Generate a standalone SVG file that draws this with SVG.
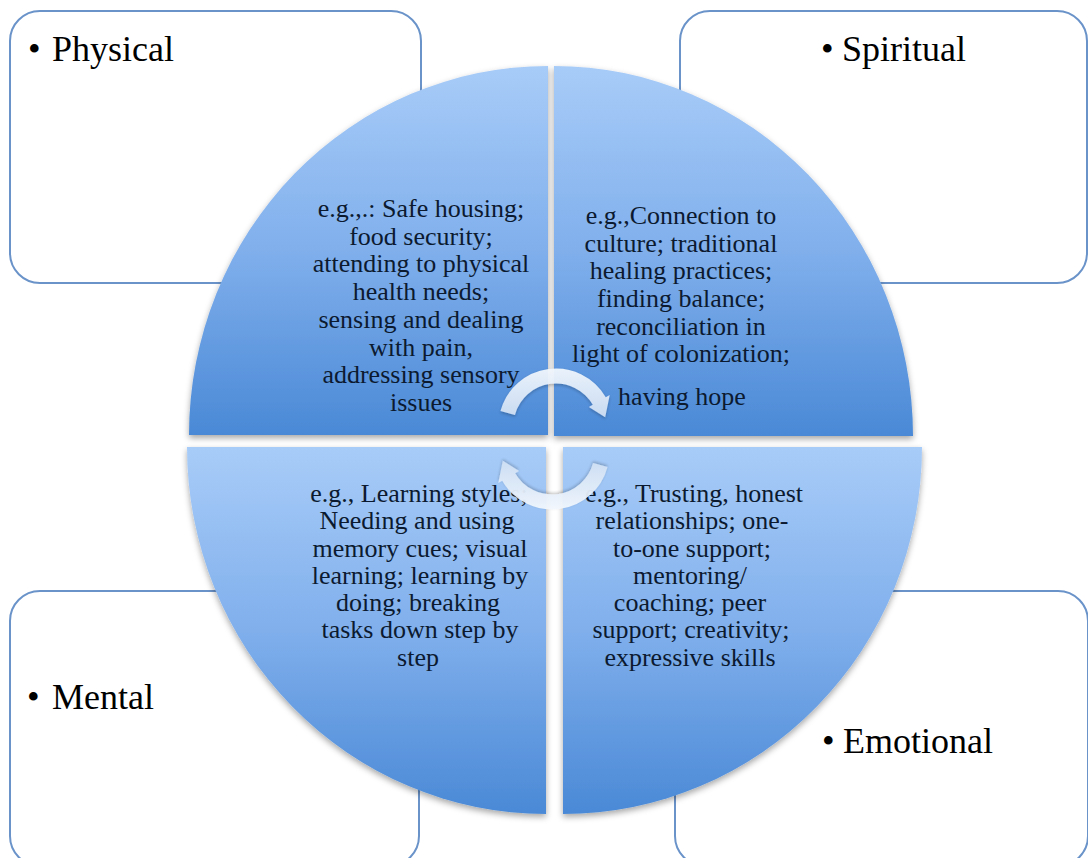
<svg xmlns="http://www.w3.org/2000/svg" width="1088" height="858" viewBox="0 0 1088 858">
<defs>
<linearGradient id="qgrad" x1="0" y1="0" x2="0" y2="1">
<stop offset="0" stop-color="#a8ccf8"/>
<stop offset="0.5" stop-color="#80afec"/>
<stop offset="1" stop-color="#4a89d6"/>
</linearGradient>
<linearGradient id="agrad" x1="0" y1="0" x2="0" y2="1">
<stop offset="0" stop-color="#f2f7fd"/>
<stop offset="1" stop-color="#cfdff3"/>
</linearGradient>
<filter id="shadow" x="-10%" y="-10%" width="120%" height="120%">
<feDropShadow dx="0" dy="3" stdDeviation="3" flood-color="#000" flood-opacity="0.35"/>
</filter>
<filter id="ashadow" x="-20%" y="-20%" width="140%" height="140%">
<feDropShadow dx="0" dy="1.5" stdDeviation="1.5" flood-color="#000" flood-opacity="0.25"/>
</filter>
<path id="arrow" d="M 500.46 411.12 A 57.5 57.5 0 0 1 605.8 397.25 L 609.7 395 L 605.2 417.3 L 588.9 407 L 592.8 404.75 A 42.5 42.5 0 0 0 514.95 415 Z"/>
</defs>
<style>
.box{fill:#fff;stroke:#6a93c9;stroke-width:2}
.quad{fill:url(#qgrad);filter:url(#shadow)}
.label{font-family:"Liberation Serif","Times New Roman",serif;font-size:36px;fill:#000}
.body{font-family:"Liberation Serif","Times New Roman",serif;font-size:26px;fill:#0c1a30;text-anchor:middle}
.arr{fill:url(#agrad);opacity:0.95;filter:url(#ashadow)}
</style>
<rect width="1088" height="858" fill="#fff"/>
<g id="box-physical">
<rect class="box" x="10" y="11" width="411" height="272" rx="30"/>
<text class="label" x="28" y="61">•<tspan x="52">Physical</tspan></text>
</g>
<g id="box-spiritual">
<rect class="box" x="680" y="11" width="407" height="272" rx="30"/>
<text class="label" x="821" y="61">•<tspan x="842">Spiritual</tspan></text>
</g>
<g id="box-mental">
<rect class="box" x="10" y="591" width="409" height="275" rx="30"/>
<text class="label" x="27" y="709">•<tspan x="52">Mental</tspan></text>
</g>
<g id="box-emotional">
<rect class="box" x="675" y="591" width="413" height="275" rx="30"/>
<text class="label" x="822" y="753">•<tspan x="843">Emotional</tspan></text>
</g>
<g id="quad-physical">
<path class="quad" d="M 548 435 L 189 435 A 359 369 0 0 1 548 66 Z"/>
<text class="body" x="421"><tspan x="421" y="217">e.g.,.: Safe housing;</tspan><tspan x="421" y="245">food security;</tspan><tspan x="421" y="272">attending to physical</tspan><tspan x="421" y="300">health needs;</tspan><tspan x="421" y="328">sensing and dealing</tspan><tspan x="421" y="356">with pain,</tspan><tspan x="421" y="383">addressing sensory</tspan><tspan x="421" y="411">issues</tspan></text>
</g>
<g id="quad-spiritual">
<path class="quad" d="M 554 436 L 554 66 A 359 370 0 0 1 913 436 Z"/>
<text class="body" x="681"><tspan x="681" y="224">e.g.,Connection to</tspan><tspan x="681" y="252">culture; traditional</tspan><tspan x="681" y="279">healing practices;</tspan><tspan x="681" y="307">finding balance;</tspan><tspan x="681" y="335">reconciliation in</tspan><tspan x="681" y="362">light of colonization;</tspan><tspan x="682" y="405">having hope</tspan></text>
</g>
<g id="quad-mental">
<path class="quad" d="M 546 447 L 546 814 A 359 367 0 0 1 187 447 Z"/>
<text class="body" x="419"><tspan x="419" y="502">e.g., Learning styles;</tspan><tspan x="417" y="529">Needing and using</tspan><tspan x="420" y="557">memory cues; visual</tspan><tspan x="420" y="584">learning; learning by</tspan><tspan x="418" y="611">doing; breaking</tspan><tspan x="420" y="638">tasks down step by</tspan><tspan x="418" y="666">step</tspan></text>
</g>
<g id="quad-emotional">
<path class="quad" d="M 563 447 L 922 447 A 359 367 0 0 1 563 814 Z"/>
<text class="body" x="692"><tspan x="694" y="502">e.g., Trusting, honest</tspan><tspan x="692" y="529">relationships; one-</tspan><tspan x="692" y="557">to-one support;</tspan><tspan x="690" y="584">mentoring/</tspan><tspan x="690" y="611">coaching; peer</tspan><tspan x="691" y="638">support; creativity;</tspan><tspan x="690" y="666">expressive skills</tspan></text>
</g>
<g id="connectors">
<use href="#arrow" class="arr"/>
<use href="#arrow" class="arr" transform="rotate(180 554 439)"/>
</g>
</svg>
